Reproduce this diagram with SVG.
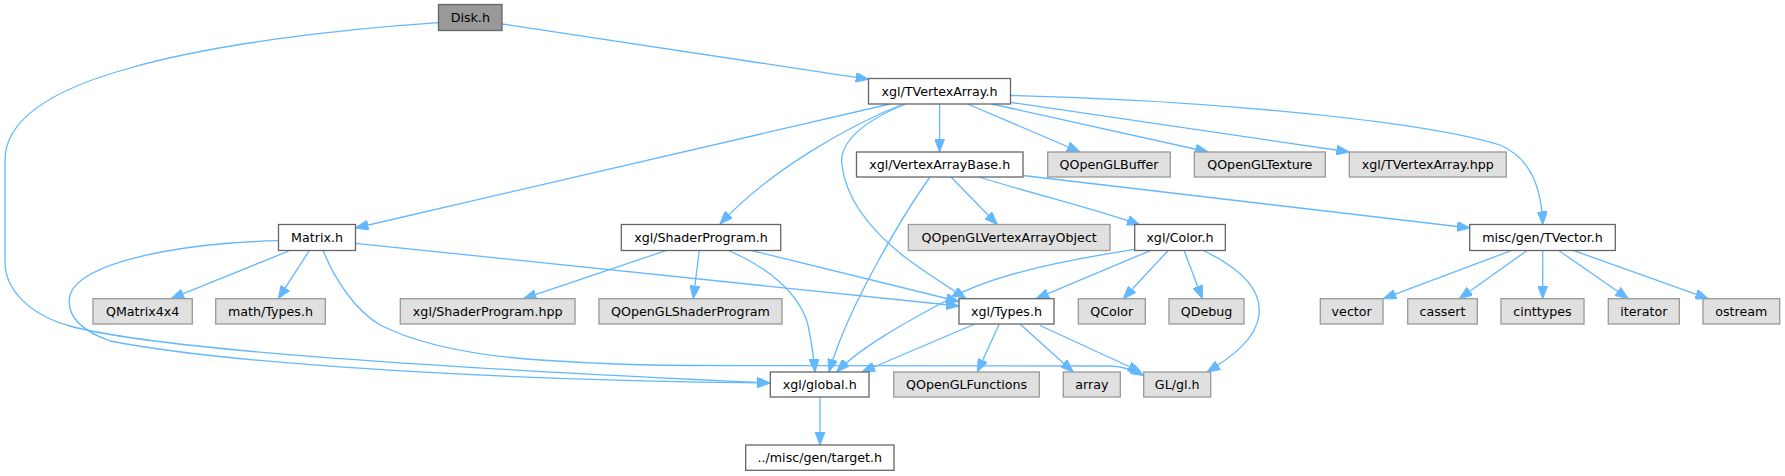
<svg xmlns="http://www.w3.org/2000/svg" width="1785" height="476" viewBox="0 0 1785 476">
<style>
rect{stroke-width:1.3}
.n rect{fill:#ffffff;stroke:#666666}
.g rect{fill:#e0e0e0;stroke:#999999}
.d rect{fill:#999999;stroke:#666666}
text{font-family:"DejaVu Sans","Liberation Sans",sans-serif;font-size:12.67px;fill:#000000;text-anchor:middle}
#edges path{fill:none;stroke:#63b8ff;stroke-width:1.3;marker-end:url(#a)}
</style>
<defs>
<marker id="a" markerUnits="userSpaceOnUse" markerWidth="13" markerHeight="10" refX="13" refY="5" orient="auto" viewBox="0 0 13 10"><path d="M0,0L13,5L0,10z" fill="#63b8ff" stroke="#63b8ff" stroke-width="1"/></marker>
</defs>
<rect width="1785" height="476" fill="#ffffff"/>
<g id="edges">
<path d="M502,24 L868.7,79.3"/>
<path d="M438.5,22.7 C330,30 210,45 130,68 C50,90 5,120 5,160 L5,262 C5,290 30,315 70,326 C150,348 400,366 770,383"/>
<path d="M939.6,104 L939.6,152"/>
<path d="M890,104 L355.5,228"/>
<path d="M903.3,104 C850,125 770,170 720,224"/>
<path d="M905.7,104 C870,118 838,140 842,165 C846,200 870,230 906,258 C925,272 945,285 966,298.5"/>
<path d="M967.7,104 L1080,152"/>
<path d="M992,104 L1208.3,152"/>
<path d="M1010.5,102.4 L1349.3,152"/>
<path d="M1010.5,95.5 C1200,100 1420,120 1500,145 C1535,160 1542,195 1542.7,224.5"/>
<path d="M930,177 C910,205 850,300 829,372"/>
<path d="M951,177 L997.3,224.5"/>
<path d="M979,177 C1040,196 1100,210 1140,225"/>
<path d="M1023,175.5 L1470,228"/>
<path d="M288.7,251 L171,298.7"/>
<path d="M309,251 L278.3,298.7"/>
<path d="M323.3,251 C335,280 355,310 380,325 C420,345 480,356 540,360 C600,364 650,365.5 700,365.5 L1110,366 C1122,366.5 1132,369 1143.5,375.5"/>
<path d="M278.5,240.7 C180,243 80,262 70,295 C65,318 85,332 110,341 C250,368 550,381 770,383"/>
<path d="M355.5,243.3 L959,306"/>
<path d="M666.7,250.3 L523.5,298.7"/>
<path d="M699.3,250.3 L693.3,298.7"/>
<path d="M728.3,250.5 C770,268 800,295 808,325 C812,345 814,358 815,372"/>
<path d="M750.7,250.3 L959,301.5"/>
<path d="M1134.7,249.3 C1080,258 1000,272 955,296 C900,325 860,348 836.7,372"/>
<path d="M1151,250.3 L1036,298.7"/>
<path d="M1168.3,250.3 L1123.3,298.7"/>
<path d="M1184,250.3 L1202.3,298.7"/>
<path d="M1203.3,250.5 C1240,268 1262,290 1259,315 C1256,340 1230,358 1207,372"/>
<path d="M975,324 L862,372"/>
<path d="M999.3,324 L977.3,372"/>
<path d="M1020,324 L1073.3,372"/>
<path d="M1040,325.5 L1141,372"/>
<path d="M1511,250.7 L1383.3,298.7"/>
<path d="M1526.7,250.7 L1459.3,298.7"/>
<path d="M1542.7,250.7 L1542.7,298.7"/>
<path d="M1559,250.7 L1628.3,298.7"/>
<path d="M1574,250.7 L1708.3,298.7"/>
<path d="M820,397 L820,445"/>
</g>
<g id="disk" class="d"><rect x="438.5" y="4.5" width="63.5" height="26"/><text x="470.3" y="21.9">Disk.h</text></g>
<g id="tvertexarray" class="n"><rect x="868.5" y="78.5" width="142" height="25.5"/><text x="939.5" y="95.7">xgl/TVertexArray.h</text></g>
<g id="vertexarraybase" class="n"><rect x="856.5" y="152" width="166.5" height="25"/><text x="939.7" y="168.9">xgl/VertexArrayBase.h</text></g>
<g id="qopenglbuffer" class="g"><rect x="1047.7" y="152" width="122.6" height="25"/><text x="1109" y="168.9">QOpenGLBuffer</text></g>
<g id="qopengltexture" class="g"><rect x="1194.3" y="152" width="131" height="25"/><text x="1259.8" y="168.9">QOpenGLTexture</text></g>
<g id="tvertexarrayhpp" class="g"><rect x="1349.3" y="152" width="157" height="25"/><text x="1427.8" y="168.9">xgl/TVertexArray.hpp</text></g>
<g id="matrix" class="n"><rect x="278.5" y="224.5" width="77" height="26"/><text x="317" y="241.9">Matrix.h</text></g>
<g id="shaderprogram" class="n"><rect x="621.3" y="224.5" width="159.4" height="26"/><text x="701" y="241.9">xgl/ShaderProgram.h</text></g>
<g id="qvao" class="g"><rect x="908.3" y="224.5" width="201.7" height="26"/><text x="1009.2" y="241.9">QOpenGLVertexArrayObject</text></g>
<g id="color" class="n"><rect x="1134.7" y="224.5" width="90.6" height="26"/><text x="1180" y="241.9">xgl/Color.h</text></g>
<g id="tvector" class="n"><rect x="1469.7" y="224.5" width="145.6" height="26"/><text x="1542.5" y="241.9">misc/gen/TVector.h</text></g>
<g id="qmatrix4x4" class="g"><rect x="93" y="298.7" width="99.3" height="25.3"/><text x="142.7" y="315.7">QMatrix4x4</text></g>
<g id="mathtypes" class="g"><rect x="215.7" y="298.7" width="109.6" height="25.3"/><text x="270.5" y="315.7">math/Types.h</text></g>
<g id="shaderprogramhpp" class="g"><rect x="400.3" y="298.7" width="174.7" height="25.3"/><text x="487.7" y="315.7">xgl/ShaderProgram.hpp</text></g>
<g id="qshaderprogram" class="g"><rect x="599" y="298.7" width="183" height="25.3"/><text x="690.5" y="315.7">QOpenGLShaderProgram</text></g>
<g id="types" class="n"><rect x="959" y="298.7" width="95" height="25.3"/><text x="1006.5" y="315.7">xgl/Types.h</text></g>
<g id="qcolor" class="g"><rect x="1078.3" y="298.7" width="67" height="25.3"/><text x="1111.8" y="315.7">QColor</text></g>
<g id="qdebug" class="g"><rect x="1169" y="298.7" width="75" height="25.3"/><text x="1206.5" y="315.7">QDebug</text></g>
<g id="vector" class="g"><rect x="1320.3" y="298.7" width="62.7" height="25.3"/><text x="1351.7" y="315.7">vector</text></g>
<g id="cassert" class="g"><rect x="1407.7" y="298.7" width="69.6" height="25.3"/><text x="1442.5" y="315.7">cassert</text></g>
<g id="cinttypes" class="g"><rect x="1501" y="298.7" width="83" height="25.3"/><text x="1542.5" y="315.7">cinttypes</text></g>
<g id="iterator" class="g"><rect x="1608.3" y="298.7" width="71" height="25.3"/><text x="1643.8" y="315.7">iterator</text></g>
<g id="ostream" class="g"><rect x="1703" y="298.7" width="76.7" height="25.3"/><text x="1741.3" y="315.7">ostream</text></g>
<g id="global" class="n"><rect x="770.3" y="372" width="98.7" height="25"/><text x="819.7" y="388.9">xgl/global.h</text></g>
<g id="qfunctions" class="g"><rect x="893.7" y="372" width="145.6" height="25"/><text x="966.5" y="388.9">QOpenGLFunctions</text></g>
<g id="array" class="g"><rect x="1063.3" y="372" width="57" height="25"/><text x="1091.8" y="388.9">array</text></g>
<g id="glh" class="g"><rect x="1143.7" y="372" width="67" height="25"/><text x="1177.2" y="388.9">GL/gl.h</text></g>
<g id="target" class="n"><rect x="745.7" y="445" width="148.3" height="25.3"/><text x="819.8" y="462">../misc/gen/target.h</text></g>
</svg>
